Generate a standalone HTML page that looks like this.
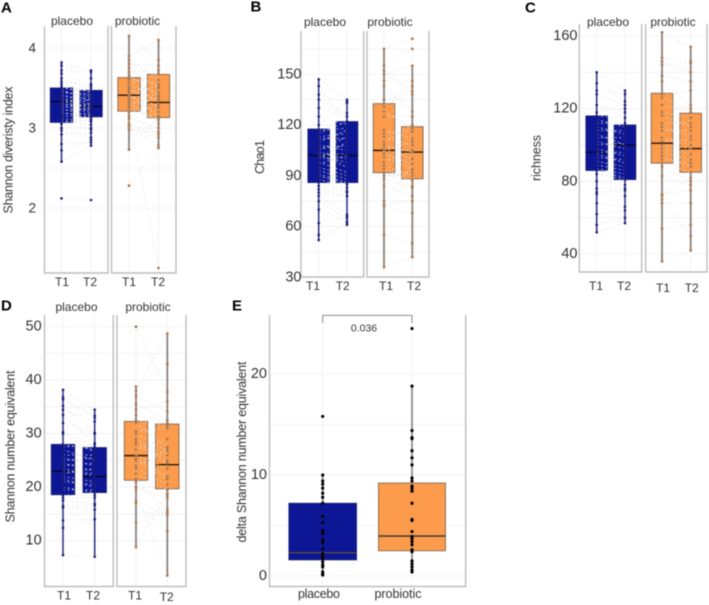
<!DOCTYPE html>
<html lang="en">
<head>
<meta charset="utf-8">
<title>Diversity boxplots</title>
<style>
html,body{margin:0;padding:0;background:#fff;width:709px;height:605px;overflow:hidden}
svg{display:block;filter:blur(0.45px)}
text{font-family:"Liberation Sans",sans-serif;fill:#333}
</style>
</head>
<body>
<svg id="figure" width="709" height="605" viewBox="0 0 709 605" xmlns="http://www.w3.org/2000/svg"></svg>
<script>
// ---- Chart data ----
const timeLabels = ['T1', 'T2'];
const groupLabels = ['placebo', 'probiotic'];

const shannonTicks = [2, 3, 4];
const shannonPlaceboT1 = [3.82,3.78,3.72,3.68,3.62,3.58,3.55,3.52,3.5,3.48,3.46,3.44,3.42,3.4,3.38,3.36,3.34,3.33,3.31,3.3,3.28,3.26,3.24,3.22,3.2,3.18,3.15,3.12,3.1,3.07,3.05,3.0,2.97,2.92,2.8,2.72,2.58,2.12];
const shannonPlaceboT2 = [3.72,3.62,3.7,3.55,3.5,3.53,3.44,3.4,3.46,3.33,3.38,3.42,3.3,3.36,3.28,3.25,3.22,3.35,3.2,3.26,3.18,3.3,3.15,3.24,3.12,3.17,3.14,3.08,3.04,3.1,2.98,3.0,2.88,2.94,2.82,2.85,2.78,2.10];
const shannonProbioticT1 = [4.15,3.9,3.85,3.8,3.75,3.7,3.66,3.62,3.6,3.56,3.52,3.5,3.48,3.45,3.42,3.4,3.38,3.35,3.32,3.3,3.27,3.24,3.2,3.15,3.12,3.05,3.02,2.98,2.73,2.28];
const shannonProbioticT2 = [3.85,4.1,3.6,3.78,3.5,3.72,3.4,3.55,3.3,3.68,3.45,3.25,3.35,3.52,3.15,3.28,3.42,3.2,3.05,3.38,3.12,3.1,2.92,1.25,3.0,2.88,2.78,2.95,3.15,2.75];
const shannonBoxes = [[3.07,3.33,3.5,2.58,3.82],[3.14,3.27,3.47,2.78,3.72],[3.21,3.41,3.63,2.73,4.15],[3.13,3.32,3.67,2.75,4.1]];

const chaoTicks = [30, 60, 90, 120, 150];
const chaoPlaceboT1 = [147,143,138,135,130,125,120,117,115,113,112,110,108,106,105,104,103,102,101,100,98,97,95,93,91,90,88,86,84,82,80,78,75,70,62,55,52];
const chaoPlaceboT2 = [135,122,133,127,125,120,134,118,122,115,112,117,105,108,113,100,95,103,98,110,92,102,90,88,86,85,83,81,80,78,78,67,65,63,66,61,62];
const chaoProbioticT1 = [165,155,152,150,146,143,135,131,128,125,117,115,113,110,108,106,105,103,101,98,96,94,92,90,88,84,75,73,72,55,36];
const chaoProbioticT2 = [171,165,140,155,146,128,138,143,118,125,112,116,108,120,104,100,110,97,94,105,90,87,84,92,83,78,97,75,68,50,42];
const chaoBoxes = [[86,102,117.6,52,147],[86,102,122,61,135],[91.8,105,132.6,36,165],[88.2,104,119,42,155]];

const richnessTicks = [40, 80, 120, 160];
const richnessPlaceboT1 = [140,134,130,128,122,118,116,114,112,110,108,106,104,102,100,98,96,95,93,91,89,87,86,84,80,76,74,73,68,62,56,52];
const richnessPlaceboT2 = [130,124,128,122,118,120,115,110,112,106,108,100,104,98,101,94,96,90,92,88,86,84,82,81,78,76,75,72,66,64,60,57];
const richnessProbioticT1 = [162,148,146,144,138,135,128,126,122,118,116,112,110,108,104,102,100,98,96,94,92,90,88,83,73,72,70,68,54,36];
const richnessProbioticT2 = [154,146,140,145,135,122,130,120,118,115,110,112,105,108,100,103,98,95,92,88,90,85,80,78,75,82,50,68,56,42];
const richnessBoxes = [[86,96,116,52,140],[81,100,111,57,130],[90,101,128.5,36,162],[85,98,117.5,42,154]];

const numberTicks = [10, 20, 30, 40, 50];
const numberPlaceboT1 = [38.2,36.8,36.4,35.2,34.5,33.5,32,30.3,30,28,27.5,27,26,25.5,25,24.5,24,23.5,23,22.5,22,21.5,21,20,19.5,18.5,18,17.5,16.5,16.2,13.8,12.4,7.3];
const numberPlaceboT2 = [34.5,33.4,33,30.2,32.3,28.2,30,27.5,26.5,27,28,25,26,24,25.5,23,24.5,22,22.5,23.5,21,20,20.5,19,19.5,18.5,18,16.9,16.6,15.8,14,14,7];
const numberProbioticT1 = [50,38.8,38,37,35.5,34.5,33.5,32.5,32,30.5,30,29,28.5,28,27,26,25.5,25,24,23.5,22.5,21.5,21,20,19.5,17.4,17,13.4,8.8];
const numberProbioticT2 = [37.8,43,48.7,34.2,32.5,36,32,31.5,27.5,31,26.8,26,25,24.5,29,23.5,22,21.5,27,20.5,19.5,18.5,15.8,18,3.5,14.8,11.8,15.3,18.8];
const numberBoxes = [[18.6,23,28,7.3,38.2],[19,22,27.4,7,34.5],[21.3,25.9,32.3,8.8,39],[19.7,24.2,31.8,3.5,48.7]];

const deltaTicks = [0, 10, 20];
const deltaPlacebo = [15.8,10,9.4,9.1,8.7,8.2,7.8,7.2,5.9,5.3,4.5,4.2,3.6,3.3,2.7,2.2,1.9,1.7,1.4,1.1,0.9,0.4,0.2,0.1];
const deltaProbiotic = [24.5,18.8,14.4,13.7,13.6,12.4,11.7,11,9.7,9.4,8.9,8.7,8.4,7.2,5.6,5.5,4.4,3.9,3.7,3.4,3.1,2.6,2.4,1.5,1.2,0.9,0.6,0.4];
const deltaBoxes = [[1.6,2.3,7.2,0.1,10],[2.5,3.95,9.2,0.4,18.8]];
const deltaPValue = '0.036';

// ---- Drawing helpers ----
const NS = 'http://www.w3.org/2000/svg';
const fig = document.getElementById('figure');
const BLUE = '#0d1796', ORANGE = '#fb9b4b';
function mk(tag, attrs, parent) {
  const el = document.createElementNS(NS, tag);
  for (const k in attrs) el.setAttribute(k, attrs[k]);
  (parent || fig).appendChild(el);
  return el;
}
function linearScale(d0, r0, d1, r1) {
  return v => r0 + (v - d0) * (r1 - r0) / (d1 - d0);
}
function drawText(str, x, y, size, name, opts, parent) {
  const o = opts || {};
  const a = {x: x, y: y, 'font-size': size, 'text-anchor': o.anchor || 'middle', 'dominant-baseline': 'central'};
  if (o.rotate) a.transform = 'rotate(-90 ' + x + ' ' + y + ')';
  if (o.length) { a.textLength = o.length; a.lengthAdjust = 'spacing'; }
  if (o.bold) { a['font-weight'] = 'bold'; a.style = 'fill:#000'; }
  const t = mk('text', a, parent);
  t.textContent = str;
  
  
  return t;
}
function drawFrame(g, left, right, top, bottom, closedRight, name) {
  const p = mk('path', {d: 'M' + left + ' ' + top + 'V' + bottom + 'H' + right + 'V' + top, fill: 'none', stroke: '#bdbdbd', 'stroke-width': 1.4}, g);
  
  
}
function drawGrid(g, ys, xs, left, right, top, bottom) {
  ys.forEach(y => {
    const l = mk('line', {x1: left, x2: right, y1: y, y2: y, stroke: '#f0f0f0', 'stroke-width': 0.8}, g);
    
    
  });
  xs.forEach(x => {
    const l = mk('line', {x1: x, x2: x, y1: top, y2: bottom, stroke: '#f0f0f0', 'stroke-width': 0.8}, g);
    
    
  });
}
function drawBox(g, x, halfWidth, stats, yScale, fill, whiskerColor, whiskerWidth, medianColor, boxName) {
  const whisker = mk('line', {x1: x, x2: x, y1: yScale(stats[3]), y2: yScale(stats[4]), stroke: whiskerColor, 'stroke-width': whiskerWidth}, g);
  
  
  const r = mk('rect', {x: x - halfWidth, width: halfWidth * 2, y: yScale(stats[2]), height: yScale(stats[0]) - yScale(stats[2]), fill: fill, stroke: fill === BLUE ? '#1a1f70' : '#7d6a58', 'stroke-width': 0.9}, g);
  
  
  const m = mk('line', {x1: x - halfWidth, x2: x + halfWidth, y1: yScale(stats[1]), y2: yScale(stats[1]), stroke: medianColor, 'stroke-width': 1.4}, g);
  
  
}
function drawPairs(g, x1, x2, a, b, yScale, name) {
  a.forEach((v, i) => {
    const l = mk('line', {x1: x1, x2: x2, y1: yScale(v), y2: yScale(b[i]), stroke: '#e2e2e2', 'stroke-opacity': 0.8, 'stroke-width': 0.85, 'stroke-dasharray': '2 2.5'}, g);
    
    
  });
}
function drawPoints(g, x, values, yScale, color, r, name) {
  values.forEach(v => {
    const c = mk('circle', {cx: x, cy: yScale(v), r: r, fill: color}, g);
    
    
  });
}

function pairedPanel(cfg) {
  const g = mk('g', {});
  
  
  const y = linearScale(cfg.cal[0], cfg.cal[1], cfg.cal[2], cfg.cal[3]);
  const f = cfg.facets;
  const tickYs = cfg.ticks.map(y);
  const step = cfg.ticks.length > 1 ? (tickYs[1] - tickYs[0]) / 2 : 0;
  const minorYs = tickYs.map(t => t + step).filter(t => t > cfg.top && t < cfg.bottom);
  // facet backgrounds
  [0, 1].forEach(i => {
    drawGrid(g, tickYs.concat(minorYs), [f[i].x1, f[i].x2], f[i].left, f[i].right, cfg.top, cfg.bottom);
    drawFrame(g, f[i].left, f[i].right, cfg.top, cfg.bottom, true, groupLabels[i] + '-facet-frame');
    drawText(groupLabels[i], f[i].titleX, cfg.titleY, 12, groupLabels[i] + '-facet-title', {}, g);
  });
  drawBox(g, f[0].x1, cfg.hw, cfg.boxes[0], y, BLUE, '#2a2d78', 1.5, '#05052a', 'placebo-t1-box');
  drawBox(g, f[0].x2, cfg.hw, cfg.boxes[1], y, BLUE, '#2a2d78', 1.5, '#05052a', 'placebo-t2-box');
  drawBox(g, f[1].x1, cfg.hw, cfg.boxes[2], y, ORANGE, '#8b8178', 1.8, '#2a1a0c', 'probiotic-t1-box');
  drawBox(g, f[1].x2, cfg.hw, cfg.boxes[3], y, ORANGE, '#8b8178', 1.8, '#2a1a0c', 'probiotic-t2-box');
  drawPairs(g, f[0].x1, f[0].x2, cfg.data[0], cfg.data[1], y, 'placebo-paired-line');
  drawPairs(g, f[1].x1, f[1].x2, cfg.data[2], cfg.data[3], y, 'probiotic-paired-line');
  drawPoints(g, f[0].x1, cfg.data[0], y, '#1b1b78', 1.3, 'placebo-t1-point');
  drawPoints(g, f[0].x2, cfg.data[1], y, '#1b1b78', 1.3, 'placebo-t2-point');
  drawPoints(g, f[1].x1, cfg.data[2], y, '#a97a55', 1.4, 'probiotic-t1-point');
  drawPoints(g, f[1].x2, cfg.data[3], y, '#a97a55', 1.4, 'probiotic-t2-point');
  cfg.ticks.forEach((t, i) => drawText(String(t), cfg.tickX, tickYs[i], cfg.tickSize, 'y-tick-label', {anchor: 'end'}, g));
  cfg.timeX.forEach((x, i) => drawText(timeLabels[i % 2], x, cfg.timeY[i], 12, 'x-tick-label', {}, g));
  drawText(cfg.yTitle, cfg.yTitleX, cfg.yTitleY, 12.5, 'y-axis-title', {rotate: true, length: cfg.yTitleLen}, g);
  drawText(cfg.letter, cfg.letterX, cfg.letterY, 15, 'panel-letter', {anchor: 'start', bold: true}, g);
}

pairedPanel({
  name: 'panel-a-shannon-index', letter: 'A', letterX: 1, letterY: 8,
  cal: [4, 48, 2, 208], top: 26, bottom: 273, hw: 11.2,
  facets: [{left: 44.5, right: 108, x1: 61.5, x2: 91, titleX: 72, }, {left: 111.5, right: 176, x1: 129, x2: 158.5, titleX: 137.5}],
  ticks: shannonTicks, tickX: 36, tickSize: 13.5, titleY: 21,
  boxes: shannonBoxes, data: [shannonPlaceboT1, shannonPlaceboT2, shannonProbioticT1, shannonProbioticT2],
  timeX: [62, 90, 129, 158], timeY: [282, 282, 282, 282],
  yTitle: 'Shannon diveristy index', yTitleX: 8.5, yTitleY: 150, yTitleLen: 127
});
pairedPanel({
  name: 'panel-b-chao1', letter: 'B', letterX: 250.5, letterY: 7,
  cal: [120, 125, 60, 226.5], top: 31, bottom: 277, hw: 10.8,
  facets: [{left: 301, right: 363.7, x1: 318.7, x2: 347, titleX: 325}, {left: 367, right: 429, x1: 384, x2: 412.3, titleX: 390}],
  ticks: chaoTicks, tickX: 301.5, tickSize: 14.5, titleY: 22,
  boxes: chaoBoxes, data: [chaoPlaceboT1, chaoPlaceboT2, chaoProbioticT1, chaoProbioticT2],
  timeX: [313, 342.7, 386, 414], timeY: [286, 286, 286, 286],
  yTitle: 'Chao1', yTitleX: 260, yTitleY: 157, yTitleLen: 34
});
pairedPanel({
  name: 'panel-c-richness', letter: 'C', letterX: 525, letterY: 8,
  cal: [160, 36, 40, 254], top: 24, bottom: 272, hw: 10.8,
  facets: [{left: 579.3, right: 641.7, x1: 596.7, x2: 625, titleX: 608}, {left: 645.7, right: 707, x1: 662, x2: 690.7, titleX: 673}],
  ticks: richnessTicks, tickX: 577.5, tickSize: 14.5, titleY: 22,
  boxes: richnessBoxes, data: [richnessPlaceboT1, richnessPlaceboT2, richnessProbioticT1, richnessProbioticT2],
  timeX: [596, 624, 663, 691.7], timeY: [286, 286, 288, 288],
  yTitle: 'richness', yTitleX: 536.5, yTitleY: 158, yTitleLen: 46
});
pairedPanel({
  name: 'panel-d-shannon-number', letter: 'D', letterX: 1, letterY: 306,
  cal: [50, 326.7, 10, 540.7], top: 315, bottom: 586.5, hw: 11.7,
  facets: [{left: 44.5, right: 113.3, x1: 63, x2: 94.7, titleX: 76.5}, {left: 117, right: 186, x1: 136, x2: 167.3, titleX: 148}],
  ticks: numberTicks, tickX: 41.7, tickSize: 14.5, titleY: 307,
  boxes: numberBoxes, data: [numberPlaceboT1, numberPlaceboT2, numberProbioticT1, numberProbioticT2],
  timeX: [64, 93, 135, 166.7], timeY: [595.5, 595.5, 595.5, 597],
  yTitle: 'Shannon number equivalent', yTitleX: 10.5, yTitleY: 446.5, yTitleLen: 152
});

(function panelE() {
  const g = mk('g', {});
  
  
  const y = linearScale(0, 576, 20, 374);
  const left = 269.5, right = 465.7, top = 315, bottom = 586.5;
  const xs = [322.7, 412];
  const tickYs = deltaTicks.map(y);
  const minor = tickYs.slice(0, -1).map((t, i) => (t + tickYs[i + 1]) / 2);
  drawGrid(g, tickYs.concat(minor), xs, left, right, top, bottom);
  drawFrame(g, left, right, top, bottom, true, 'panel-e-frame');
  drawBox(g, xs[0], 33.8, deltaBoxes[0], y, BLUE, '#777', 1.6, '#5c4a35', 'placebo-delta-box');
  drawBox(g, xs[1], 33.5, deltaBoxes[1], y, ORANGE, '#8f8f8f', 1.8, '#333', 'probiotic-delta-box');
  drawPoints(g, xs[0], deltaPlacebo, y, '#000', 1.6, 'placebo-delta-point');
  drawPoints(g, xs[1], deltaProbiotic, y, '#000', 1.6, 'probiotic-delta-point');
  deltaTicks.forEach((t, i) => drawText(String(t), 267, tickYs[i], 14.5, 'y-tick-label', {anchor: 'end'}, g));
  drawText(groupLabels[0], 319, 594, 12.5, 'x-tick-label', {length: 42}, g);
  drawText(groupLabels[1], 398, 594, 12.5, 'x-tick-label', {length: 47}, g);
  drawText('delta Shannon number equivalent', 242, 452, 12.5, 'y-axis-title', {rotate: true, length: 181}, g);
  drawText('E', 232, 306, 15, 'panel-letter', {anchor: 'start', bold: true}, g);
  const bracket = mk('path', {d: 'M' + xs[0] + ' 323V315.4H' + xs[1] + 'V323', fill: 'none', stroke: '#8a8a8a', 'stroke-width': 1}, g);
  
  
  drawText(deltaPValue, 364, 328.5, 10.5, 'p-value-label', {}, g);
})();
</script>
</body>
</html>
